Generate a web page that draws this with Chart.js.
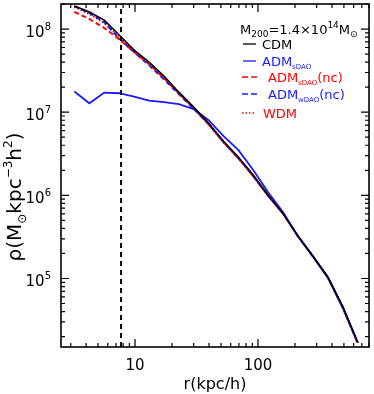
<!DOCTYPE html>
<html>
<head>
<meta charset="utf-8">
<script src="https://cdn.jsdelivr.net/npm/chart.js@4.4.1/dist/chart.umd.min.js"></script>
<style>
  html, body { margin: 0; padding: 0; background: #fff; }
  #wrap { width: 374px; height: 394px; position: relative; }
</style>
</head>
<body>
<div id="wrap"><canvas id="profile"></canvas></div>
<script>
// radio (kpc/h) de cada bin
const rKpc = [3.21, 4.25, 5.62, 7.43, 9.83, 13.0, 17.2, 22.7, 30.0, 39.7, 52.5, 69.4, 91.8, 121, 160, 212, 281, 371, 490, 648];

// densidades
const rhoCDM    = [1.89e8, 1.60e8, 1.28e8, 8.47e7, 5.58e7, 4.00e7, 2.71e7, 1.74e7, 1.15e7, 7.36e6, 4.47e6, 2.87e6, 1.74e6, 1.00e6, 6.07e5, 3.21e5, 1.84e5, 1.03e5, 4.60e4, 1.70e4];
const rhoSDAO   = [1.77e7, 1.28e7, 1.72e7, 1.69e7, 1.54e7, 1.38e7, 1.32e7, 1.25e7, 1.09e7, 8.00e6, 5.14e6, 3.49e6, 2.00e6, 1.09e6, 6.24e5, 3.21e5, 1.84e5, 1.03e5, 4.48e4, 1.70e4];
const rhoSDAOnc = [1.61e8, 1.32e8, 1.03e8, 7.57e7, 5.28e7, 3.79e7, 2.57e7, 1.69e7, 1.12e7, 7.16e6, 4.35e6, 2.79e6, 1.69e6, 9.87e5, 5.99e5, 3.21e5, 1.84e5, 1.02e5, 4.40e4, 1.70e4];
const rhoWDAOnc = [1.89e8, 1.56e8, 1.21e8, 7.68e7, 5.28e7, 3.68e7, 2.49e7, 1.65e7, 1.10e7, 7.16e6, 4.35e6, 2.79e6, 1.69e6, 9.87e5, 6.07e5, 3.21e5, 1.82e5, 1.03e5, 4.44e4, 1.65e4];
const rhoWDM    = [1.84e8, 1.52e8, 1.18e8, 8.22e7, 5.51e7, 3.89e7, 2.64e7, 1.72e7, 1.13e7, 7.26e6, 4.41e6, 2.83e6, 1.72e6, 1.00e6, 6.07e5, 3.21e5, 1.84e5, 1.03e5, 4.48e4, 1.70e4];

// linea vertical (softening)
const rSoft = 7.7;

// ejes
const xRange = [2.5, 800];
const yRange = [1.5e4, 2e8];
const xMajor = [10, 100];
const xLabels = ['10', '100'];
const yMajor = [1e5, 1e6, 1e7, 1e8];
const yExp = ['5', '6', '7', '8'];

const FONT = '"DejaVu Sans", sans-serif';
const BLUE = '#1a1aff';
const RED = '#ff0000';

const pts = (ys) => rKpc.map((r, i) => ({ x: r, y: ys[i] }));

// todos los ticks menores de una escala log
const logTicks = (min, max) => {
    const out = [];
    for (let e = Math.floor(Math.log10(min)); e <= Math.ceil(Math.log10(max)); e++) {
        for (let m = 1; m <= 9; m++) {
            const v = m * Math.pow(10, e);
            if (v >= min * 0.999 && v <= max * 1.001) out.push({ v, major: m === 1 });
        }
    }
    return out;
};

// texto con sub/superindices: partes [texto, tamaño, desplazamiento]
const richWidth = (ctx, parts) => parts.reduce((w, p) => {
    ctx.font = `${p[1]}px ${FONT}`;
    return w + ctx.measureText(p[0]).width;
}, 0);

const drawRich = (ctx, parts, x, y) => {
    let cx = x;
    parts.forEach((p) => {
        ctx.font = `${p[1]}px ${FONT}`;
        ctx.fillText(p[0], cx, y + (p[2] || 0));
        cx += ctx.measureText(p[0]).width;
    });
};

const framePlugin = {
    id: 'idlFrame',
    afterDatasetsDraw(chart) {
        const { ctx, chartArea: a, scales } = chart;
        const xs = scales.x, ys = scales.y;
        ctx.save();
        ctx.strokeStyle = '#000';
        ctx.fillStyle = '#000';
        ctx.lineWidth = 1.6;
        ctx.strokeRect(a.left, a.top, a.right - a.left, a.bottom - a.top);

        // ticks hacia dentro en los cuatro lados
        ctx.lineWidth = 1.2;
        ctx.beginPath();
        logTicks(xRange[0], xRange[1]).forEach((t) => {
            const px = xs.getPixelForValue(t.v);
            const len = t.major ? 8 : 4;
            ctx.moveTo(px, a.bottom); ctx.lineTo(px, a.bottom - len);
            ctx.moveTo(px, a.top); ctx.lineTo(px, a.top + len);
        });
        logTicks(yRange[0], yRange[1]).forEach((t) => {
            const py = ys.getPixelForValue(t.v);
            const len = t.major ? 8 : 4;
            ctx.moveTo(a.left, py); ctx.lineTo(a.left + len, py);
            ctx.moveTo(a.right, py); ctx.lineTo(a.right - len, py);
        });
        ctx.stroke();

        // etiquetas eje x
        ctx.textAlign = 'center';
        ctx.textBaseline = 'middle';
        ctx.font = `15px ${FONT}`;
        xMajor.forEach((v, i) => {
            ctx.fillText(xLabels[i], xs.getPixelForValue(v), a.bottom + 19);
        });

        // etiquetas eje y: 10^n
        ctx.textAlign = 'left';
        ctx.textBaseline = 'alphabetic';
        yMajor.forEach((v, i) => {
            const py = ys.getPixelForValue(v);
            const parts = [['10', 15, 0], [yExp[i], 10, -7]];
            const w = richWidth(ctx, parts);
            drawRich(ctx, parts, a.left - 10 - w, py + 8);
        });

        // titulo eje x
        ctx.textAlign = 'center';
        ctx.textBaseline = 'middle';
        ctx.font = `16px ${FONT}`;
        ctx.fillText('r(kpc/h)', (a.left + a.right) / 2, 385);

        // titulo eje y
        ctx.textAlign = 'left';
        ctx.textBaseline = 'alphabetic';
        const yt = [['ρ(M', 20, 0], ['⊙', 12, 5], ['kpc', 20, 0], ['−3', 12, -9], ['h', 20, 0], ['2', 12, -9], [')', 20, 0]];
        const tw = richWidth(ctx, yt);
        ctx.translate(21, 197);
        ctx.rotate(-Math.PI / 2);
        drawRich(ctx, yt, -tw / 2, 0);
        ctx.restore();

        // leyenda
        ctx.save();
        ctx.textAlign = 'left';
        ctx.textBaseline = 'alphabetic';
        ctx.fillStyle = '#000';
        drawRich(ctx, [['M', 13, 0], ['200', 9, 3], ['=1.4×10', 13, 0], ['14', 9, -6], ['M', 13, 0], ['⊙', 9, 3]], 240, 34);

        const rows = [
            { y: 44, color: '#000', dash: [], lw: 1.3, x0: 243, x1: 256, tx: 262, parts: [['CDM', 13, 0]] },
            { y: 61, color: BLUE, dash: [], lw: 1.3, x0: 243, x1: 256, tx: 262, parts: [['ADM', 13, 0], ['sDAO', 7, 3]] },
            { y: 77, color: RED, dash: [6, 3], lw: 1.3, x0: 242, x1: 259, tx: 268, parts: [['ADM', 13, 0], ['sDAO', 7, 3], ['(nc)', 13, 0]] },
            { y: 94, color: BLUE, dash: [6, 3], lw: 1.3, x0: 242, x1: 259, tx: 268, parts: [['ADM', 13, 0], ['wDAO', 7, 3], ['(nc)', 13, 0]] },
            { y: 113, color: RED, dash: [1.5, 2], lw: 1.5, x0: 242, x1: 255, tx: 263, parts: [['WDM', 13, 0]] }
        ];
        rows.forEach((r) => {
            ctx.strokeStyle = r.color;
            ctx.lineWidth = r.lw;
            ctx.setLineDash(r.dash);
            ctx.beginPath();
            ctx.moveTo(r.x0, r.y);
            ctx.lineTo(r.x1, r.y);
            ctx.stroke();
            ctx.fillStyle = r.color;
            drawRich(ctx, r.parts, r.tx, r.y + 5);
        });
        ctx.restore();
    }
};

const line = (data, color, width, dash) => ({
    data: pts(data),
    borderColor: color,
    borderWidth: width,
    borderDash: dash,
    pointRadius: 0,
    fill: false,
    tension: 0
});

new Chart(document.getElementById('profile'), {
    type: 'line',
    data: {
        datasets: [
            { data: [{ x: rSoft, y: yRange[0] }, { x: rSoft, y: yRange[1] }], borderColor: '#000', borderWidth: 2, borderDash: [5, 4], pointRadius: 0 },
            line(rhoCDM, '#000', 1.6, []),
            line(rhoSDAO, BLUE, 1.8, []),
            line(rhoSDAOnc, RED, 2, [5, 3]),
            line(rhoWDAOnc, BLUE, 2, [5, 3]),
            line(rhoWDM, RED, 2, [1.5, 2])
        ]
    },
    options: {
        responsive: true,
        maintainAspectRatio: false,
        animation: false,
        events: [],
        layout: { padding: { left: 61, right: 5, top: 4, bottom: 47 } },
        plugins: { legend: { display: false }, tooltip: { enabled: false } },
        scales: {
            x: { type: 'logarithmic', min: xRange[0], max: xRange[1], display: false },
            y: { type: 'logarithmic', min: yRange[0], max: yRange[1], display: false }
        }
    },
    plugins: [framePlugin]
});
</script>
</body>
</html>
